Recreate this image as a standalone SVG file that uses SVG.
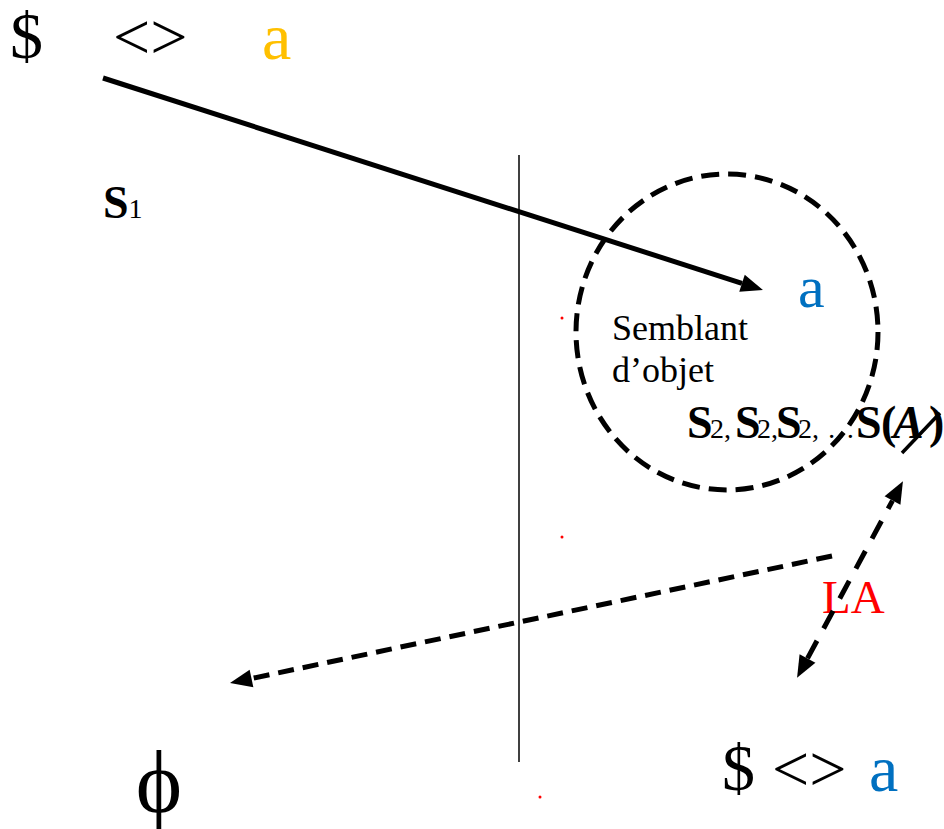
<svg xmlns="http://www.w3.org/2000/svg" width="944" height="829" viewBox="0 0 944 829">
<style>
.t{font-family:"Liberation Serif","Tinos","Times New Roman","DejaVu Serif",serif;fill:#000}
.big{font-size:66px}
.sb{font-family:"Liberation Serif","Tinos","Times New Roman","DejaVu Serif",serif;font-size:46px;font-weight:bold;fill:#000}
.sub{font-size:28px;font-weight:normal}
.dash{fill:none;stroke:#000;stroke-width:5}
</style>
<defs>
<marker id="ah" markerUnits="userSpaceOnUse" markerWidth="24" markerHeight="20" refX="0" refY="9" orient="auto-start-reverse" overflow="visible">
<path d="M0,0 L22,9 L0,18 z" fill="#000"/>
</marker>
</defs>
<rect width="944" height="829" fill="#fff"/>
<g id="top-formula">
<text class="t big" x="10" y="58">$</text>
<text class="t big" x="113" y="59">&lt;&gt;</text>
<text class="t big" x="262" y="59" style="fill:#FFC000">a</text>
</g>
<g id="s1">
<text class="sb" x="103" y="218">S<tspan class="sub">1</tspan></text>
</g>
<g id="divider">
<line x1="519" y1="155" x2="519" y2="762" stroke="#000" stroke-width="1.5"/>
</g>
<g id="semblant">
<ellipse cx="727" cy="332" rx="151" ry="158" class="dash" stroke-dasharray="18 9"/>
<text class="t" x="798" y="307" font-size="60" style="fill:#0070C0">a</text>
<text class="t" x="612" y="340" font-size="36">Semblant</text>
<text class="t" x="612" y="382" font-size="36">d’objet</text>
<text class="sb" y="438"><tspan x="687">S</tspan><tspan class="sub" x="710">2</tspan><tspan class="sub" x="724">,</tspan><tspan x="735">S</tspan><tspan class="sub" x="757">2</tspan><tspan class="sub" x="771">,</tspan><tspan x="776">S</tspan><tspan class="sub" x="798">2</tspan><tspan class="sub" x="812">,</tspan><tspan class="sub" x="827">…</tspan><tspan x="856">S</tspan><tspan x="881">(</tspan><tspan x="893" font-style="italic">A</tspan><tspan x="929">)</tspan></text>
<line x1="902" y1="453" x2="940" y2="413" stroke="#000" stroke-width="3.5"/>
</g>
<g id="la">
<text class="t" x="822" y="613" font-size="47" style="fill:#FF0000">LA</text>
</g>
<g id="phi">
<text class="t" x="159" y="812" font-size="88" text-anchor="middle">ϕ</text>
</g>
<g id="bottom-formula">
<text class="t big" x="722" y="790">$</text>
<text class="t big" x="772" y="791">&lt;&gt;</text>
<text class="t big" x="869" y="791" style="fill:#0070C0">a</text>
</g>
<g id="dots" fill="#FF0000">
<circle cx="562" cy="318" r="1.5"/>
<circle cx="562" cy="537" r="1.5"/>
<circle cx="540" cy="797" r="1.5"/>
</g>
<g id="connectors">
<line x1="103" y1="78" x2="742" y2="283.3" stroke="#000" stroke-width="5" marker-end="url(#ah)"/>
<line x1="832" y1="556" x2="251.5" y2="678.5" class="dash" stroke-dasharray="16 9" marker-end="url(#ah)"/>
<line x1="807.5" y1="658.4" x2="892.5" y2="500.6" class="dash" stroke-dasharray="20 14" marker-start="url(#ah)" marker-end="url(#ah)"/>
</g>
</svg>
